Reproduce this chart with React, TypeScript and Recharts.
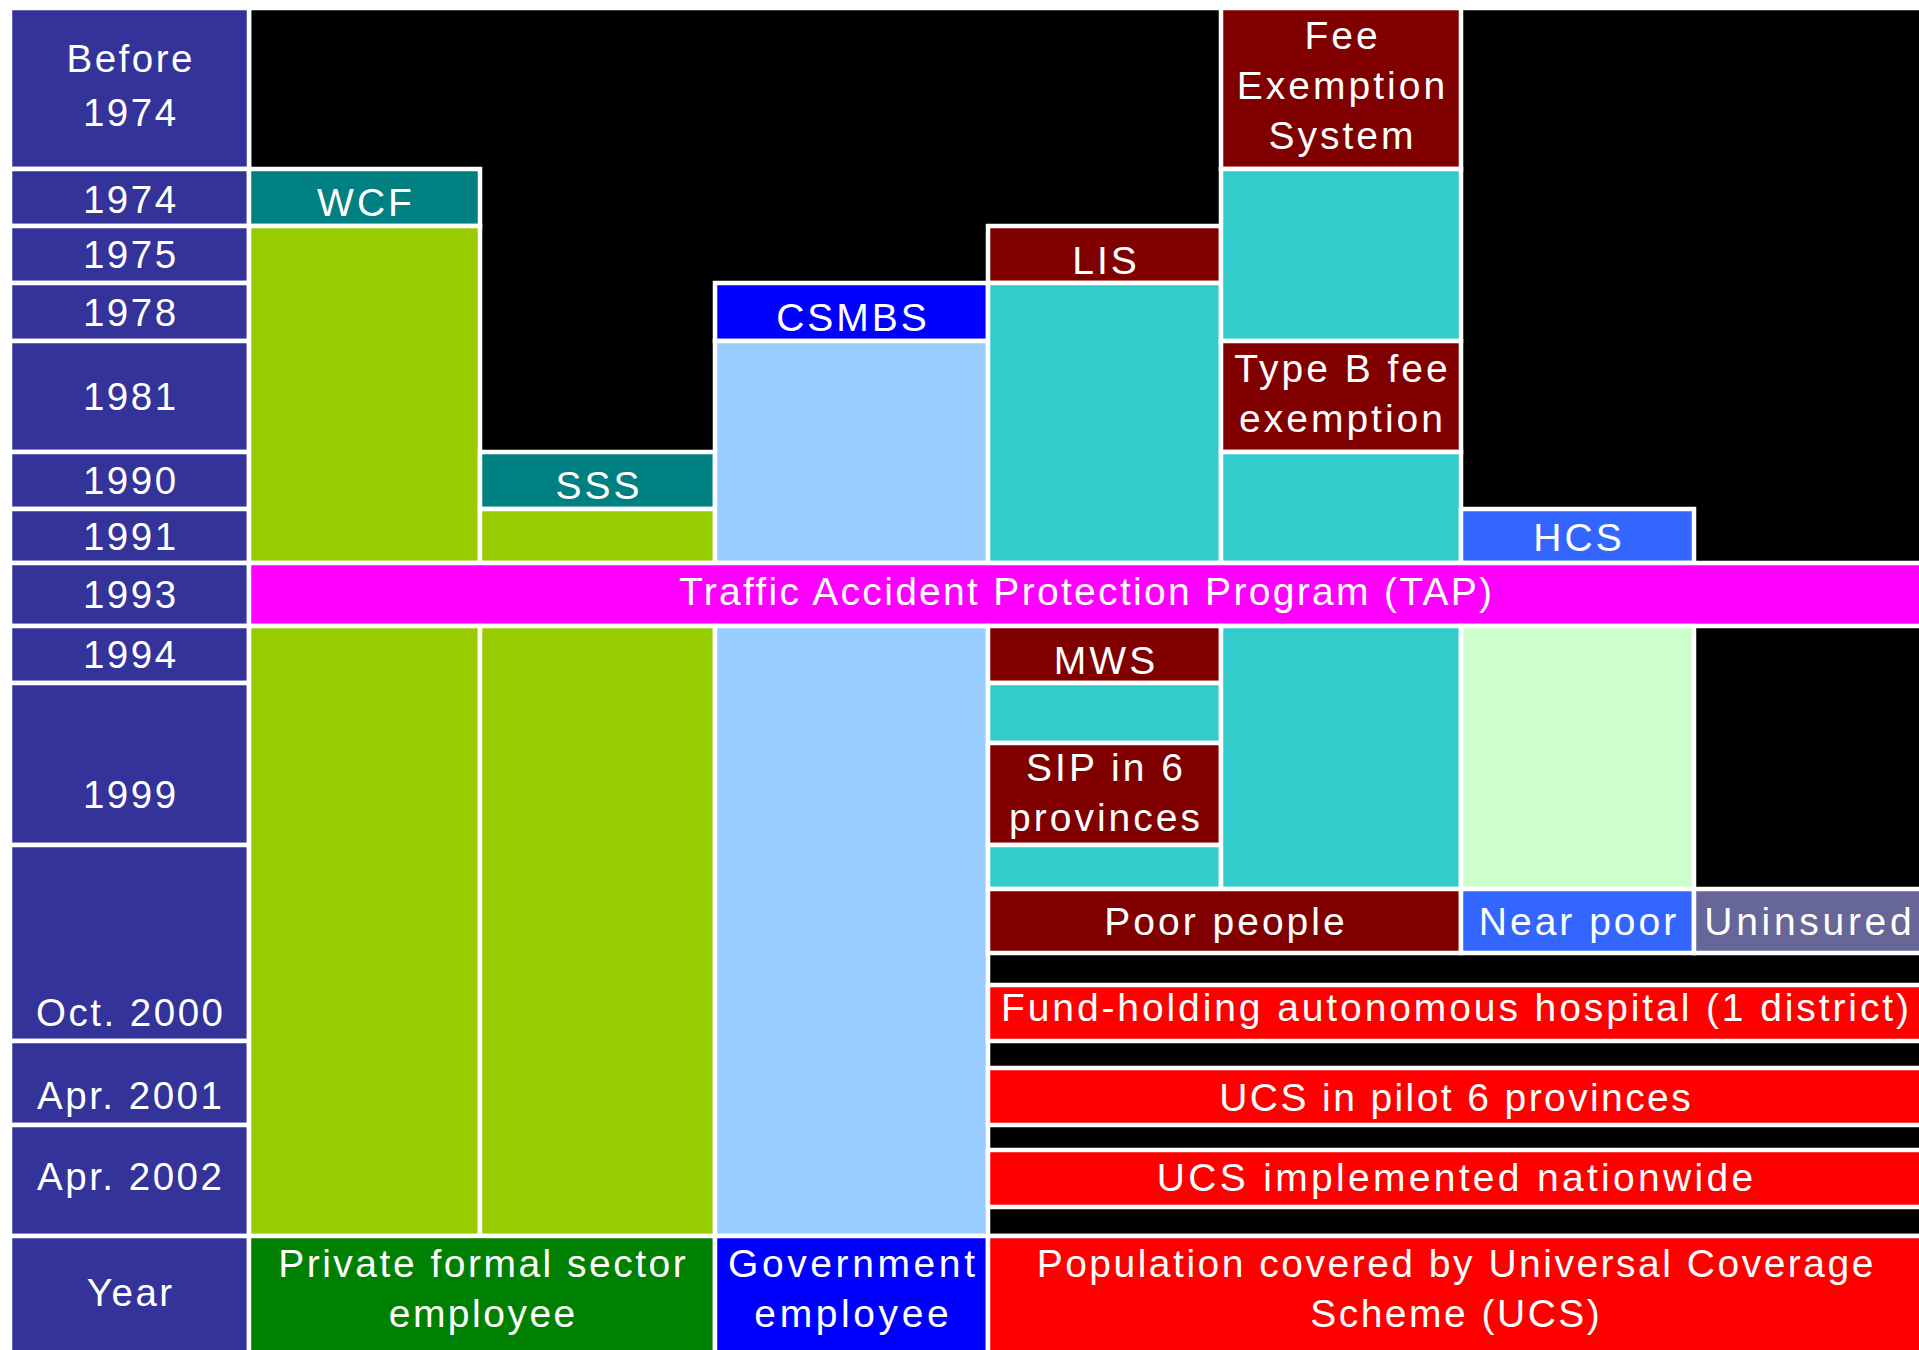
import React from 'react';
import { ComposedChart, XAxis, YAxis, ReferenceArea } from 'recharts';

// Left-hand timeline column
const yearLabels = [
  'Before\n1974', '1974', '1975', '1978', '1981', '1990', '1991', '1993',
  '1994', '1999', 'Oct. 2000', 'Apr. 2001', 'Apr. 2002', 'Year',
];
// table rows covered by each year label, [from, to)
const yearRowSpans: [number, number][] = [
  [0, 1], [1, 2], [2, 3], [3, 4], [4, 5], [5, 6], [6, 7], [7, 8],
  [8, 9], [9, 11], [11, 15], [15, 17], [17, 20], [20, 21],
];

// Columns: 0 year, 1 WCF, 2 SSS, 3 CSMBS, 4 LIS, 5 fee exemption, 6 HCS, 7 uninsured
type Cell = { label?: string; cols: [number, number]; rows: [number, number]; group: string };

const schemeCells: Cell[] = [
  { label: 'WCF', cols: [1, 2], rows: [1, 2], group: 'socialFund' },
  { cols: [1, 2], rows: [2, 7], group: 'privateCover' },
  { label: 'SSS', cols: [2, 3], rows: [5, 6], group: 'socialFund' },
  { cols: [2, 3], rows: [6, 7], group: 'privateCover' },
  { label: 'CSMBS', cols: [3, 4], rows: [3, 4], group: 'civilServant' },
  { cols: [3, 4], rows: [4, 7], group: 'civilCover' },
  { label: 'LIS', cols: [4, 5], rows: [2, 3], group: 'welfare' },
  { cols: [4, 5], rows: [3, 7], group: 'welfareCover' },
  { label: 'Fee\nExemption\nSystem', cols: [5, 6], rows: [0, 1], group: 'welfare' },
  { cols: [5, 6], rows: [1, 4], group: 'welfareCover' },
  { label: 'Type B fee\nexemption', cols: [5, 6], rows: [4, 5], group: 'welfare' },
  { cols: [5, 6], rows: [5, 7], group: 'welfareCover' },
  { label: 'HCS', cols: [6, 7], rows: [6, 7], group: 'healthCard' },
  { label: 'Traffic Accident Protection Program (TAP)', cols: [1, 8], rows: [7, 8], group: 'tap' },
  { cols: [1, 2], rows: [8, 20], group: 'privateCover' },
  { cols: [2, 3], rows: [8, 20], group: 'privateCover' },
  { cols: [3, 4], rows: [8, 20], group: 'civilCover' },
  { label: 'MWS', cols: [4, 5], rows: [8, 9], group: 'welfare' },
  { cols: [4, 5], rows: [9, 10], group: 'welfareCover' },
  { label: 'SIP in 6\nprovinces', cols: [4, 5], rows: [10, 11], group: 'welfare' },
  { cols: [4, 5], rows: [11, 12], group: 'welfareCover' },
  { cols: [5, 6], rows: [8, 12], group: 'welfareCover' },
  { cols: [6, 7], rows: [8, 12], group: 'healthCardCover' },
  { label: 'Poor people', cols: [4, 6], rows: [12, 13], group: 'welfare' },
  { label: 'Near poor', cols: [6, 7], rows: [12, 13], group: 'healthCard' },
  { label: 'Uninsured', cols: [7, 8], rows: [12, 13], group: 'uninsured' },
  { label: 'Fund-holding autonomous hospital (1 district)', cols: [4, 8], rows: [14, 15], group: 'ucs' },
  { label: 'UCS in pilot 6 provinces', cols: [4, 8], rows: [16, 17], group: 'ucs' },
  { label: 'UCS implemented nationwide', cols: [4, 8], rows: [18, 19], group: 'ucs' },
  { label: 'Private formal sector\nemployee', cols: [1, 3], rows: [20, 21], group: 'privateHead' },
  { label: 'Government\nemployee', cols: [3, 4], rows: [20, 21], group: 'civilServant' },
  { label: 'Population covered by Universal Coverage\nScheme (UCS)', cols: [4, 8], rows: [20, 21], group: 'ucs' },
];

const GROUP_COLORS: Record<string, string> = {
  year: '#333399',
  empty: '#000000',
  socialFund: '#008080',
  privateCover: '#99CC00',
  privateHead: '#008000',
  civilServant: '#0000FF',
  civilCover: '#99CCFF',
  welfare: '#800000',
  welfareCover: '#33CCCC',
  tap: '#FF00FF',
  healthCard: '#3366FF',
  healthCardCover: '#CCFFCC',
  uninsured: '#666699',
  ucs: '#FF0000',
};

// table grid
const COLUMN_WIDTHS = [239, 231, 235, 273, 233, 240, 233, 228];
const ROW_HEIGHTS = [161, 57, 57, 58, 111, 57, 54, 63, 57, 60, 102, 44, 64, 32, 56, 27, 57, 25, 57, 29, 125];

// vertical nudges for labels that don't sit in the middle of their cell
const LABEL_SHIFT: Record<string, number> = {
  'Before\n1974': -3,
  '1974': 2,
  '1999': 30,
  'Oct. 2000': 69,
  'Apr. 2001': 12,
  'Apr. 2002': -4,
  'Year': -6,
  'WCF': 4,
  'SSS': 4,
  'CSMBS': 5,
  'LIS': 5,
  'MWS': 5,
  'HCS': 1,
  'Fee\nExemption\nSystem': -3.5,
  'Type B fee\nexemption': -4,
  'SIP in 6\nprovinces': -2.5,
  'UCS implemented nationwide': -2,
  'Private formal sector\nemployee': -11,
  'Government\nemployee': -11,
  'Population covered by Universal Coverage\nScheme (UCS)': -11,
  'Fund-holding autonomous hospital (1 district)': -6,
  'Traffic Accident Protection Program (TAP)': -4,
};

// letter spacing for the wider-set labels
const LABEL_SPACING: Record<string, number> = {
  'Traffic Accident Protection Program (TAP)': 2.3,
  'Population covered by Universal Coverage\nScheme (UCS)': 2.5,
  'UCS in pilot 6 provinces': 2.4,
  'Private formal sector\nemployee': 2.5,
  'Fund-holding autonomous hospital (1 district)': 2.9,
  'UCS implemented nationwide': 3.3,
  'Uninsured': 3.7,
  'Government\nemployee': 3.6,
};

const GAP = 4.5;

const cumulative = (sizes: number[]) =>
  sizes.reduce<number[]>((acc, s) => [...acc, acc[acc.length - 1] + s], [0]);

const renderCell = (p: any, cell: Cell) => {
  const { x, y, width, height } = p;
  const isYear = cell.group === 'year';
  const fontSize = isYear ? 38.5 : 39;
  const spacing = isYear ? 2.5 : (cell.label ? LABEL_SPACING[cell.label] ?? 3 : 3);
  const lineHeight = isYear ? 54 : 50;
  const lines = cell.label ? cell.label.split('\n') : [];
  const cx = x + width / 2 + spacing / 2;
  const cy = y + height / 2 + (cell.label ? LABEL_SHIFT[cell.label] ?? 0 : 0);
  const firstBaseline = cy - ((lines.length - 1) * lineHeight) / 2 + fontSize * 0.36;
  return (
    <g>
      <rect x={x} y={y} width={width} height={height} fill={GROUP_COLORS[cell.group]} stroke="#fff" strokeWidth={GAP} />
      {lines.length > 0 && (
        <text
          textAnchor="middle"
          fill="#fff"
          fontFamily="'Liberation Sans', Arial, sans-serif"
          fontSize={fontSize}
          letterSpacing={spacing}
        >
          {lines.map((line, i) => (
            <tspan key={i} x={cx} y={firstBaseline + i * lineHeight}>{line}</tspan>
          ))}
        </text>
      )}
    </g>
  );
};

export default function App() {
  const colEdges = cumulative(COLUMN_WIDTHS);
  const rowEdges = cumulative(ROW_HEIGHTS);
  const yearCells: Cell[] = yearLabels.map((label, i) => ({
    label, cols: [0, 1], rows: yearRowSpans[i], group: 'year',
  }));
  // black backdrop behind every scheme column
  const backdrop: Cell = { cols: [1, 8], rows: [0, 20], group: 'empty' };
  const cells = [backdrop, ...yearCells, ...schemeCells];

  return (
    <div style={{ position: 'absolute', left: 0, top: 0, width: 1919, height: 1350, overflow: 'hidden', background: '#fff' }}>
      <ComposedChart width={1922} height={1361} data={[]} margin={{ top: 8, right: 0, bottom: 0, left: 10 }}>
        <XAxis type="number" dataKey="x" domain={[0, colEdges[colEdges.length - 1]]} allowDataOverflow hide />
        <YAxis type="number" dataKey="y" domain={[0, rowEdges[rowEdges.length - 1]]} allowDataOverflow reversed hide />
        {cells.map((cell, i) => (
          <ReferenceArea
            key={i}
            x1={colEdges[cell.cols[0]]}
            x2={colEdges[cell.cols[1]]}
            y1={rowEdges[cell.rows[0]]}
            y2={rowEdges[cell.rows[1]]}
            ifOverflow="visible"
            shape={(p: any) => renderCell(p, cell)}
          />
        ))}
      </ComposedChart>
    </div>
  );
}
